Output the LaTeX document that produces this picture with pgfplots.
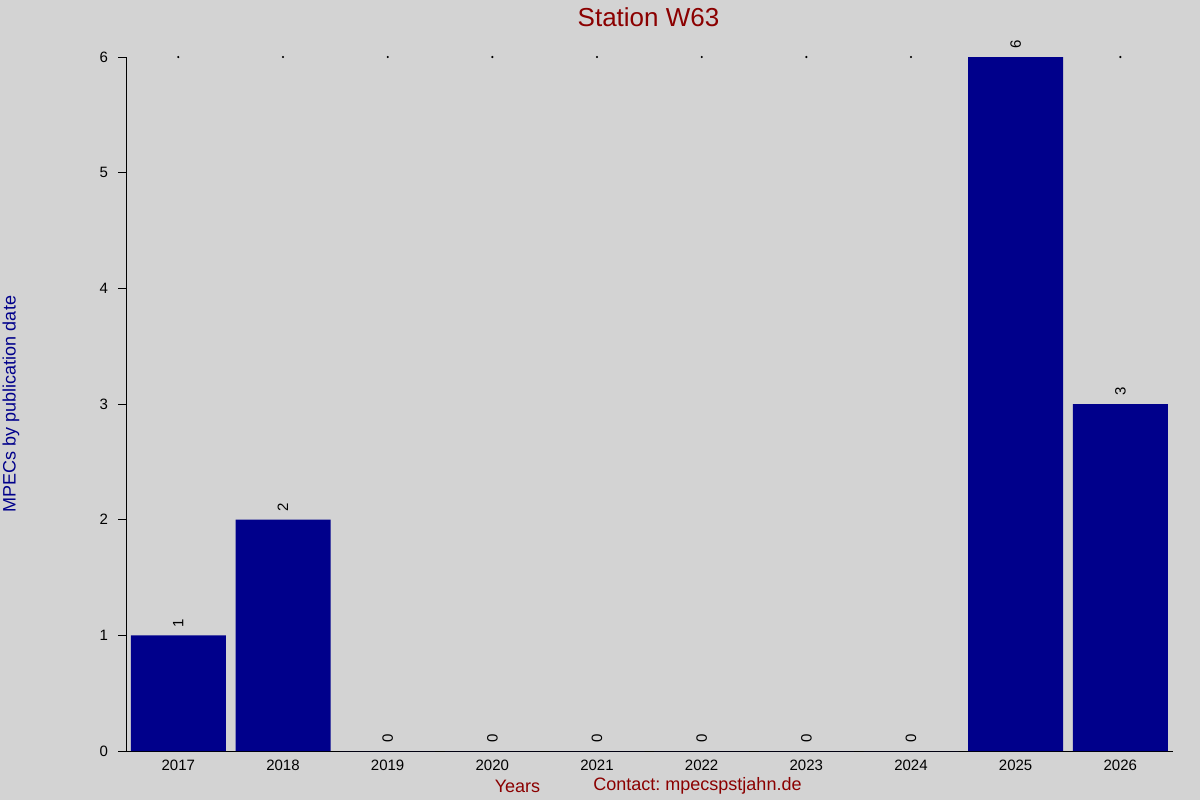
\documentclass[border=0pt]{standalone}
\usepackage{fontspec}
\setmainfont{Liberation Sans}
\usepackage{pgfplots}
\pgfplotsset{compat=1.18}
\frenchspacing

\definecolor{bgc}{HTML}{D3D3D3}
\definecolor{barc}{HTML}{00008B}
\definecolor{redc}{HTML}{8B0000}

\begin{document}
\begin{tikzpicture}
% background, 1px = 0.5bp, origin at the axis' lower left corner
\fill[bgc] (-63bp,-24.5bp) rectangle (537bp,375.5bp);

\begin{axis}[
    scale only axis,
    width=523.35bp, height=347bp,
    xmin=2016.5, xmax=2026.5,
    ymin=0, ymax=6,
    axis x line*=bottom,
    axis y line*=left,
    axis line style={-, line width=0.5bp, black},
    xtick={2017,...,2026},
    x tick label style={/pgf/number format/1000 sep={}, yshift=3bp},
    ytick={0,...,6},
    x tick style={draw=none},
    y tick style={line width=0.5bp, black},
    tick align=outside,
    major tick length=4bp,
    ticklabel style={font=\fontsize{7.5bp}{9bp}\selectfont},
    /pgf/number format/assume math mode=true,
    yticklabel style={xshift=-1.5bp},
    clip=false,
]
\addplot[ybar, bar width=47.5bp, fill=barc, draw=none,
    nodes near coords,
    every node near coord/.append style={rotate=90, anchor=west,
        font=\fontsize{7.5bp}{9bp}\selectfont, black, xshift=0.5bp}]
    coordinates {
    (2017,1) (2018,2) (2019,0) (2020,0) (2021,0)
    (2022,0) (2023,0) (2024,0) (2025,6) (2026,3)
};
% small dots along the top edge
\addplot[only marks, mark=*, mark size=0.3bp, black, forget plot] coordinates {
    (2017,6) (2018,6) (2019,6) (2020,6) (2021,6)
    (2022,6) (2023,6) (2024,6) (2026,6)
};
\end{axis}

\node[text=redc, font=\fontsize{13bp}{15bp}\selectfont] at (261.25bp,367bp) {Station W63};
\node[text=barc, rotate=90, font=\fontsize{9bp}{11bp}\selectfont] at (-57.5bp,173.5bp) {MPECs by publication date};
\node[text=redc, font=\fontsize{9bp}{11bp}\selectfont] at (195.75bp,-17.5bp) {Years};
\node[text=redc, font=\fontsize{9bp}{11bp}\selectfont] at (285.75bp,-17.5bp) {Contact: mpecspstjahn.de};

\pgfresetboundingbox
\useasboundingbox (-63bp,-24.5bp) rectangle (537bp,375.5bp);
\end{tikzpicture}
\end{document}
